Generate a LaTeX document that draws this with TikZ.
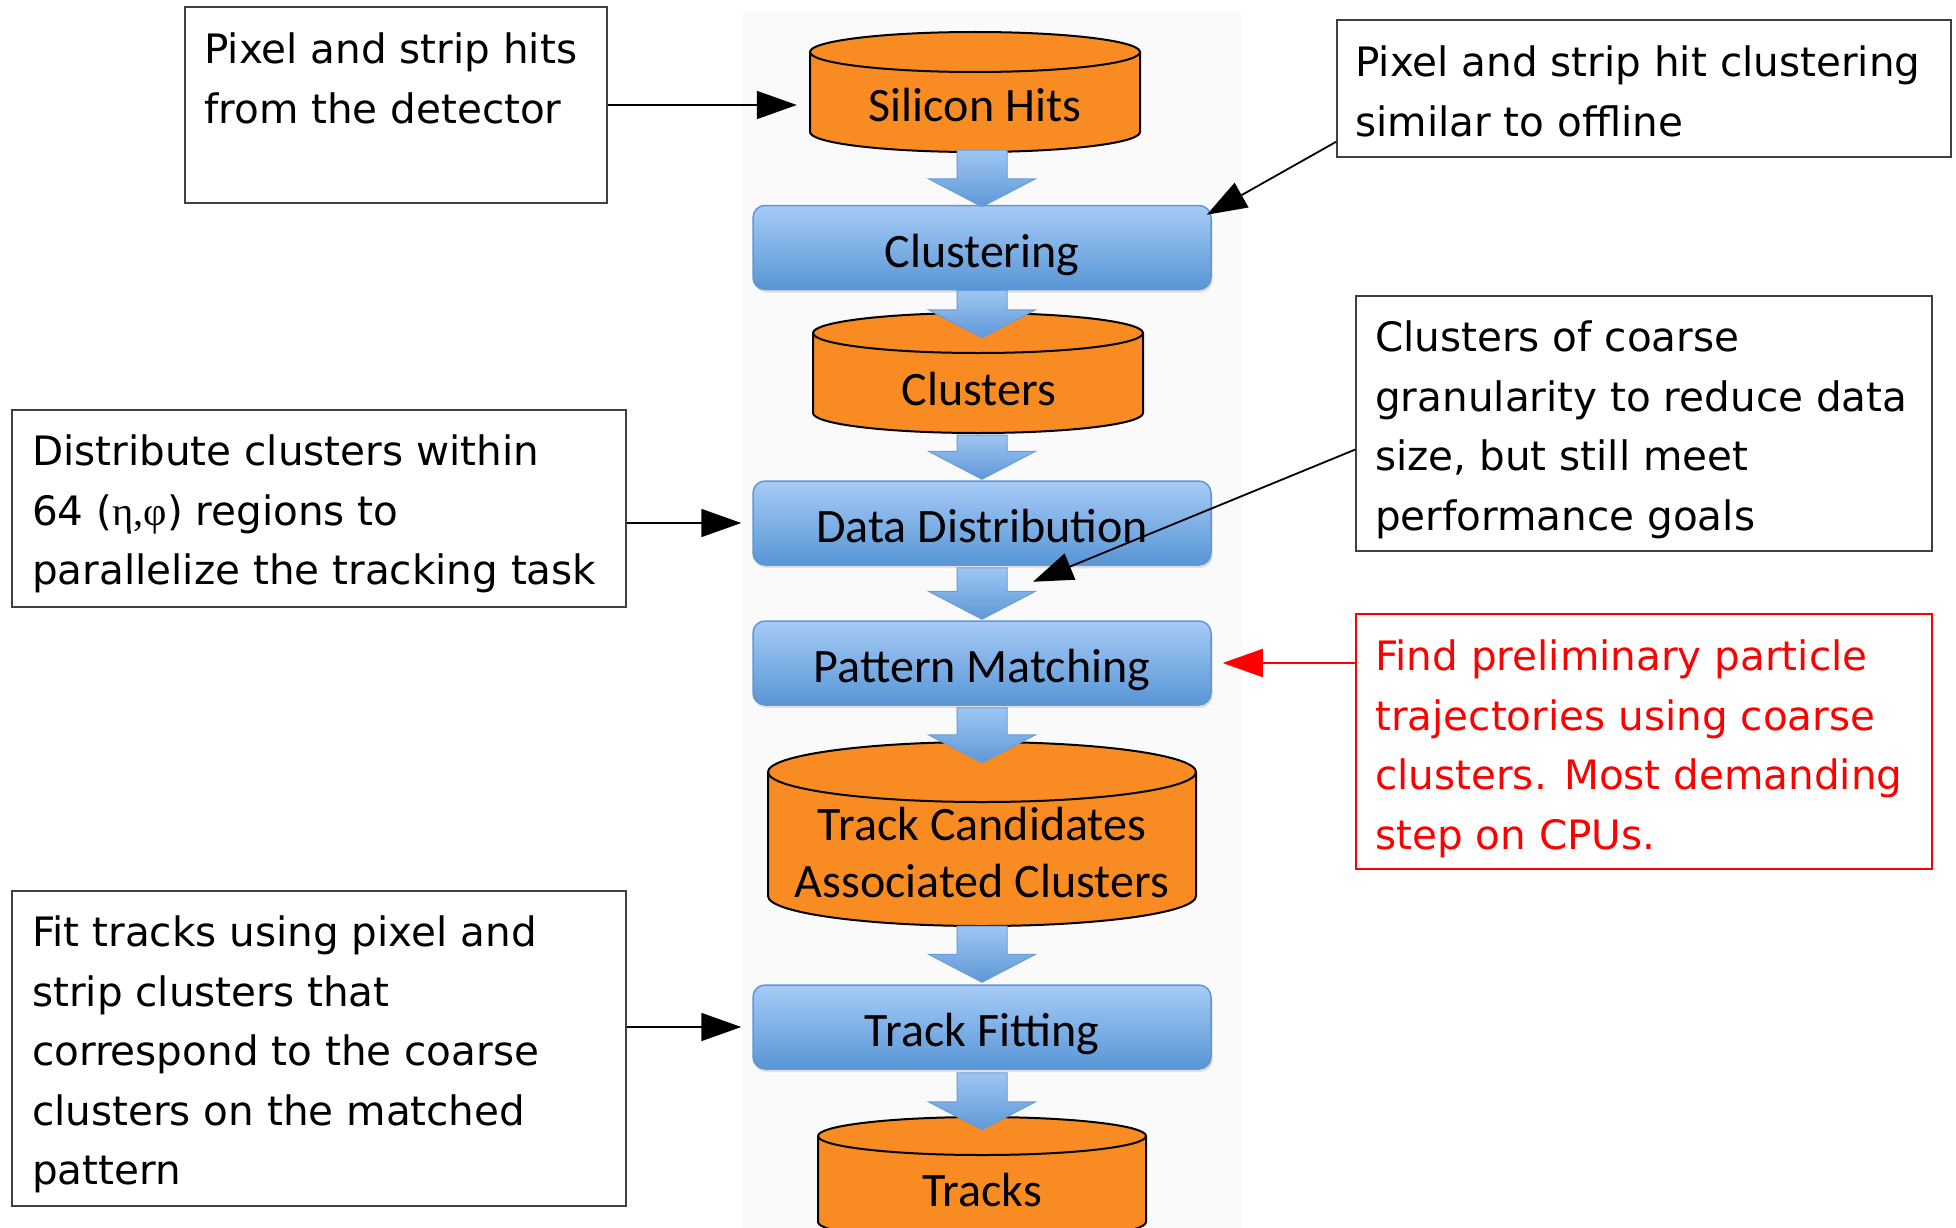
\documentclass[tikz,border=0pt]{standalone}
\usepackage{fontspec}
\setmainfont{DejaVu Sans}
\newfontfamily\stagefont{Carlito}
\newfontfamily\greekfont{Liberation Serif}
\usetikzlibrary{arrows.meta,shadows,calc}

\definecolor{drumfill}{RGB}{248,139,34}
\definecolor{stagetop}{RGB}{166,203,247}
\definecolor{stagebot}{RGB}{88,150,213}
\definecolor{stageline}{RGB}{98,150,212}
\definecolor{flowtop}{RGB}{158,198,243}
\definecolor{flowbot}{RGB}{94,152,214}
\definecolor{flowline}{RGB}{104,156,218}
\definecolor{panel}{RGB}{250,250,250}
\definecolor{notered}{RGB}{255,0,0}

% x position of the processing column
\def\colx{982pt}

% a drum (data store): name, centre x, y of top end, y of bottom end, x radius, y radius
\newcommand\drum[6]{%
  \fill[drumfill] (#2-#5,#3) -- (#2-#5,#4)
     arc[start angle=180,end angle=360,x radius=#5pt,y radius=#6pt]
     -- (#2+#5,#3)
     arc[start angle=0,end angle=180,x radius=#5pt,y radius=#6pt] -- cycle;
  \draw[drumline] (#2-#5,#3) -- (#2-#5,#4)
     arc[start angle=180,end angle=360,x radius=#5pt,y radius=#6pt]
     -- (#2+#5,#3);
  \draw[drumline] (#2,#3) ellipse[x radius=#5pt,y radius=#6pt];
  \node[inner sep=0pt, minimum width={2*#5pt}, minimum height={(#4-#3+2*#6)*1pt}]
     (#1) at (#2,{(#3+#4)/2}) {};
}

% a wide block arrow between two stages: from, to, shift of start, shift of tip
\newcommand\flow[4]{%
  \path[flowarrow] let \p1=($(#1.south)+(0,#3)$), \p2=($(#2.north)+(0,#4)$) in
    (\colx-25pt,\y1) -- (\colx+25pt,\y1) -- (\colx+25pt,\y2+28pt)
    -- (\colx+53.5pt,\y2+28pt) -- (\colx,\y2) -- (\colx-53.5pt,\y2+28pt)
    -- (\colx-25pt,\y2+28pt) -- cycle;
}

\begin{document}
\begin{tikzpicture}[x=1pt,y=-1pt,
  stage/.style={draw=stageline, line width=1.5pt, rounded corners=12pt,
    top color=stagetop, bottom color=stagebot,
    minimum width=458pt, minimum height=84pt, inner sep=0pt,
    text height=43pt, text depth=4pt,
    font=\stagefont\fontsize{48}{57}\selectfont,
    drop shadow={opacity=0.22, shadow xshift=1.5pt, shadow yshift=-3pt}},
  drumline/.style={draw=black, line width=2pt},
  drumlabel/.style={inner sep=0pt, anchor=base, font=\stagefont\fontsize{48}{57}\selectfont},
  flowarrow/.style={draw=flowline, line width=1pt, top color=flowtop, bottom color=flowbot},
  notebox/.style={draw=black!75, line width=1.3pt, inner sep=0pt},
  notetext/.style={inner sep=0pt, anchor=north west, align=left,
    font=\fontsize{40.5}{59.6}\selectfont},
  note/.style={draw=black, line width=1.8pt, -{Triangle[length=40pt,width=28pt]}},
]
\useasboundingbox (0,0) rectangle (1956,1228);
\clip (0,0) rectangle (1956,1228);
\fill[white] (0,0) rectangle (1956,1228);
\fill[panel] (742,12) rectangle (1242,1228);

% processing stages
\node[stage] (clust) at (982,247.5) {Clustering};
\node[stage] (dd)    at (982,523)   {Data Distribution};
\node[stage] (pm)    at (982,663)   {Pattern Matching};
\node[stage] (tf)    at (982,1027)  {Track Fitting};

% data stores
\drum{hitsdrum}{975}{52}{132}{165}{20}
\node[drumlabel] (hits) at (975,122) {Silicon Hits};
\drum{clusdrum}{978}{333}{413}{165}{20}
\node[drumlabel] (clus) at (979,405) {Clusters};
\drum{canddrum}{982}{772}{896}{214}{30}
\node[drumlabel] (cand1) at (982,840) {Track Candidates};
\node[drumlabel] (cand2) at (982,897) {Associated Clusters};
\drum{trkdrum}{982}{1136}{1222}{164}{19}
\node[drumlabel] (trk) at (982,1206) {Tracks};

% flow between stages
\flow{hitsdrum}{clust}{-2}{2}
\flow{clust}{clusdrum}{0}{25}
\flow{clusdrum}{dd}{2}{-1}
\flow{dd}{pm}{2}{-1}
\flow{pm}{canddrum}{2}{21}
\flow{canddrum}{tf}{0}{-2}
\flow{tf}{trkdrum}{3}{13}

% explanatory notes
\node[notebox, minimum width=422pt, minimum height=196pt] (boxA) at (396,105) {};
\node[notetext] (noteA) at (204,{63-30.4}) {Pixel and strip hits\\from the detector};

\node[notebox, minimum width=614pt, minimum height=137pt] (boxB) at (1644,88.5) {};
\node[notetext] (noteB) at (1355,{76-30.4}) {Pixel and strip hit clustering\\similar to offline};

\node[notebox, minimum width=576pt, minimum height=255pt] (boxC) at (1644,423.5) {};
\node[notetext] (noteC) at (1375,{351-30.4}) {Clusters of coarse\\granularity to reduce data\\size, but still meet\\performance goals};

\node[notebox, minimum width=614pt, minimum height=197pt] (boxD) at (319,508.5) {};
\node[notetext] (noteD) at (32,{465-30.4}) {Distribute clusters within\\64 ({\greekfont η,φ}) regions to\\parallelize the tracking task};

\node[notebox, draw=notered, minimum width=576pt, minimum height=255pt] (boxE) at (1644,741.5) {};
\node[notetext, text=notered] (noteE) at (1375,{670-30.4}) {Find preliminary particle\\trajectories using coarse\\clusters. Most demanding\\step on CPUs.};

\node[notebox, minimum width=614pt, minimum height=315pt] (boxF) at (319,1048.5) {};
\node[notetext] (noteF) at (32,{946-30.4}) {Fit tracks using pixel and\\strip clusters that\\correspond to the coarse\\clusters on the matched\\pattern};

% note connectors
\draw[note, shorten >=13pt] (boxA.east) -- (boxA.east -| hitsdrum.west);
\draw[note] ($(boxB.south west)+(0,-16)$) -- ($(clust.north east)+(-5,10)$);
\draw[note] ($(boxC.west)+(0,26)$) -- ($(dd.south)+(51,16)$);
\draw[note, shorten >=11pt] (boxD.east |- dd.west) -- (dd.west);
\draw[note, draw=notered, fill=notered, shorten >=11pt] (boxE.west |- pm.east) -- (pm.east);
\draw[note, shorten >=11pt] (boxF.east |- tf.west) -- (tf.west);
\end{tikzpicture}
\end{document}
